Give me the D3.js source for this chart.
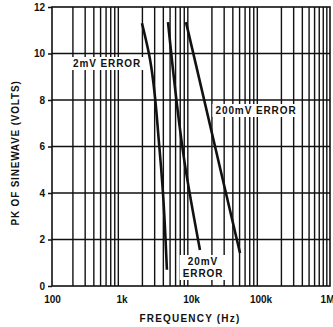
<!DOCTYPE html>
<html>
<head>
<meta charset="utf-8">
<script src="https://cdn.jsdelivr.net/npm/d3@7/dist/d3.min.js"></script>
<style>
  html, body { margin: 0; padding: 0; background: #fff; }
  svg { display: block; }
  text { font-family: "Liberation Sans", Arial, Helvetica, sans-serif; fill: #111; }
</style>
</head>
<body>
<svg id="chart" width="333" height="327"></svg>
<script>
// Peak sinewave amplitude vs frequency for three error levels
const xTickValues = [100, 1e3, 1e4, 1e5, 1e6];
const xTickLabels = ["100", "1k", "10k", "100k", "1M"];
const yTickValues = [0, 2, 4, 6, 8, 10, 12];

const freq2mV   = [1970, 2480, 3500, 3950, 4500];
const volts2mV  = [11.3, 10.0, 6.0, 4.0, 0.7];
const freq20mV  = [4670, 8200, 13460];
const volts20mV = [11.35, 5.2, 1.55];
const freq200mV = [8470, 26100, 50700];
const volts200mV = [11.35, 5.1, 1.42];

const seriesNames = ["2mV ERROR", "20mV", "200mV ERROR"];

const svg = d3.select("#chart");
const plotLeft = 52, plotRight = 330, plotTop = 7, plotBottom = 286;

const x = d3.scaleLog().domain([100, 1e6]).range([plotLeft, plotRight]);
const y = d3.scaleLinear().domain([0, 12]).range([plotBottom, plotTop]);

// minor + major vertical grid (2..9 per decade)
const vGrid = [];
for (let d = 100; d < 1e6; d *= 10) {
  for (let m = 2; m <= 9; m++) vGrid.push(d * m);
}
svg.append("g").selectAll("line").data(vGrid).join("line")
  .attr("x1", d => x(d)).attr("x2", d => x(d))
  .attr("y1", plotTop).attr("y2", plotBottom)
  .attr("stroke", "#111").attr("stroke-width", 1.4);

// horizontal grid
svg.append("g").selectAll("line").data(yTickValues.slice(1, -1)).join("line")
  .attr("x1", plotLeft).attr("x2", plotRight)
  .attr("y1", d => y(d)).attr("y2", d => y(d))
  .attr("stroke", "#111").attr("stroke-width", 1.6);

// frame
svg.append("rect")
  .attr("x", plotLeft).attr("y", plotTop)
  .attr("width", plotRight - plotLeft).attr("height", plotBottom - plotTop)
  .attr("fill", "none").attr("stroke", "#111").attr("stroke-width", 1.6);

// y axis ticks + labels
const yAxis = d3.axisLeft(y).tickValues(yTickValues).tickSize(4).tickPadding(3)
  .tickFormat(d3.format("d"));
const gy = svg.append("g").attr("transform", `translate(${plotLeft},0)`).call(yAxis);
gy.select(".domain").remove();
gy.selectAll("line").attr("stroke", "#111").attr("stroke-width", 1.5);
gy.selectAll("text").attr("font-size", 10).attr("font-weight", "bold")
  .style("font-family", "Liberation Sans, Arial, sans-serif").attr("fill", "#111");

// x axis labels (last one right-aligned so it stays inside the page)
const xAxis = d3.axisBottom(x).tickValues(xTickValues).tickSize(0).tickPadding(10)
  .tickFormat((d, i) => xTickLabels[i]);
const gx = svg.append("g").attr("transform", `translate(0,${plotBottom})`).call(xAxis);
gx.select(".domain").remove();
gx.selectAll("text").attr("font-size", 10).attr("font-weight", "bold")
  .style("font-family", "Liberation Sans, Arial, sans-serif").attr("fill", "#111");
gx.selectAll("text").filter(d => d === 1e6).attr("text-anchor", "end").attr("dx", 4);

// curves
const line = d3.line().x(d => x(d[0])).y(d => y(d[1])).curve(d3.curveMonotoneY);
const curves = [
  d3.zip(freq2mV, volts2mV),
  d3.zip(freq20mV, volts20mV),
  d3.zip(freq200mV, volts200mV)
];
svg.append("g").selectAll("path").data(curves).join("path")
  .attr("d", line)
  .attr("fill", "none").attr("stroke", "#111").attr("stroke-width", 2.6)
  .attr("stroke-linecap", "butt");

// labels with white backing
function label(lines, cx, cy) {
  const g = svg.append("g");
  const t = g.append("text").attr("text-anchor", "middle")
    .attr("font-size", 10).attr("letter-spacing", 0.9).attr("font-weight", "bold");
  lines.forEach((s, i) => {
    t.append("tspan").attr("x", cx).attr("y", cy + i * 12).text(s);
  });
  const bb = t.node().getBBox();
  g.insert("rect", "text")
    .attr("x", bb.x - 3).attr("y", bb.y - 1)
    .attr("width", bb.width + 6).attr("height", bb.height + 2)
    .attr("fill", "#fff");
}
label([seriesNames[0]], 107, 67);
label([seriesNames[2]], 256, 114);
label([seriesNames[1], "ERROR"], 203, 265);

// axis titles
svg.append("text")
  .attr("transform", `translate(19,153) rotate(-90)`)
  .attr("text-anchor", "middle").attr("font-size", 10).attr("letter-spacing", 0.8)
  .attr("font-weight", "bold")
  .text("PK OF SINEWAVE (VOLTS)");
svg.append("text")
  .attr("x", 190).attr("y", 322)
  .attr("text-anchor", "middle").attr("font-size", 10).attr("letter-spacing", 1.2)
  .attr("font-weight", "bold")
  .text("FREQUENCY (Hz)");
</script>
</body>
</html>
